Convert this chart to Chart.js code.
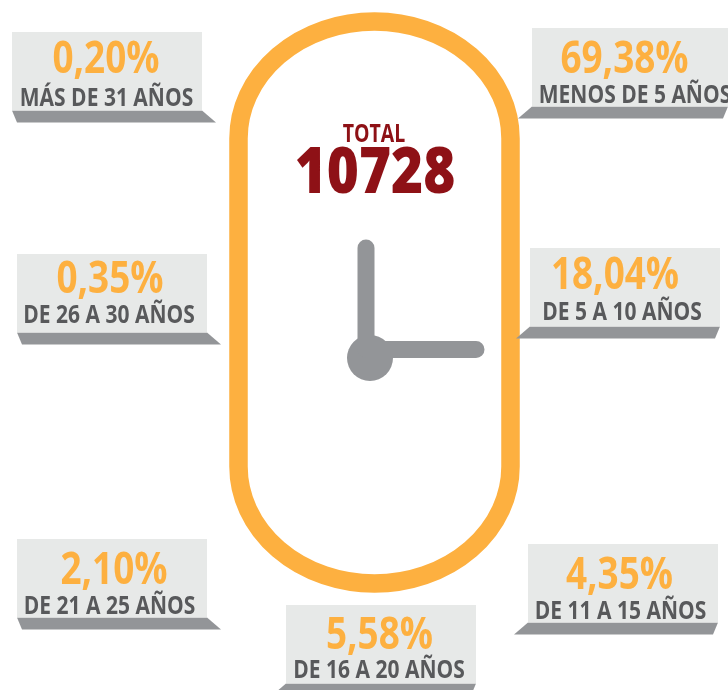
<!DOCTYPE html>
<html lang="es">
<head>
    <meta charset="UTF-8">
    <title>Total 10728</title>
    <style>
        * { margin: 0; padding: 0; box-sizing: border-box; }
        html, body { background: #ffffff; overflow: hidden; }
        #wrap { width: 728px; height: 690px; position: relative; }
    </style>
</head>
<body>
<div id="wrap"><canvas id="chart" width="728" height="690"></canvas></div>
<script src="https://cdn.jsdelivr.net/npm/chart.js"></script>
<script>
    // Data
    const categories = ['MENOS DE 5 AÑOS', 'DE 5 A 10 AÑOS', 'DE 11 A 15 AÑOS', 'DE 16 A 20 AÑOS', 'DE 21 A 25 AÑOS', 'DE 26 A 30 AÑOS', 'MÁS DE 31 AÑOS'];
    const shares = [69.38, 18.04, 4.35, 5.58, 2.10, 0.35, 0.20];
    const totalLabel = 'TOTAL';
    const totalValue = 10728;

    // Layout, in picture pixels
    const cardLeft = [532, 530, 528, 286, 17, 17, 12];
    const cardTop = [28, 248, 544, 605, 539, 254, 32];
    const cardWidth = [196, 190, 190, 190, 190, 190, 190];
    const valueCenter = [624.5, 615, 619.5, 379.5, 114, 110, 106];
    const valueBase = [73, 289, 589, 649, 584, 293, 73];
    const labelCenter = [635, 622, 620.5, 379, 109.5, 109, 106.5];
    const labelBase = [103, 320, 619, 678, 614, 323, 106];
    const shadowLeans = [-1, -1, -1, -1, 1, 1, 1];

    const ORANGE = '#FDB040';
    const GREY = '#939598';
    const CARD = '#E7E9E8';
    const TEXT = '#58595B';
    const RED = '#8E1116';

    function squeezedText(ctx, text, cx, base, font, squeeze, color) {
        ctx.save();
        ctx.font = font;
        ctx.fillStyle = color;
        ctx.textAlign = 'center';
        ctx.textBaseline = 'alphabetic';
        ctx.translate(cx, base);
        ctx.scale(squeeze, 1);
        ctx.fillText(text, 0, 0);
        ctx.restore();
    }

    const capsulePlugin = {
        id: 'capsule',
        beforeDatasetsDraw(chart) {
            const { ctx, scales: { x, y } } = chart;
            const left = x.getPixelForValue(238.5), right = x.getPixelForValue(510.5);
            const top = y.getPixelForValue(21.5), bottom = y.getPixelForValue(583.5);
            ctx.save();
            ctx.strokeStyle = ORANGE;
            ctx.lineWidth = 18.5;
            ctx.beginPath();
            // corners are flatter than a half circle
            ctx.roundRect(left, top, right - left, bottom - top, [{ x: (right - left) / 2, y: 117 }]);
            ctx.stroke();
            ctx.restore();
        }
    };

    const cardsPlugin = {
        id: 'cards',
        afterDatasetsDraw(chart) {
            const { ctx, scales: { x, y } } = chart;
            const points = chart.getDatasetMeta(0).data;
            categories.forEach((name, i) => {
                const px = points[i].x, py = points[i].y;
                const w = x.getPixelForValue(cardLeft[i] + cardWidth[i]) - px;
                const h = 78.5, drop = 12;
                ctx.fillStyle = GREY;
                ctx.beginPath();
                ctx.moveTo(px, py + h);
                ctx.lineTo(px + w, py + h);
                if (shadowLeans[i] > 0) {
                    ctx.lineTo(px + w + 14, py + h + drop);
                    ctx.lineTo(px + 5, py + h + drop);
                } else {
                    ctx.lineTo(px + w - 5, py + h + drop);
                    ctx.lineTo(px - 14, py + h + drop);
                }
                ctx.closePath();
                ctx.fill();
                ctx.fillStyle = CARD;
                ctx.fillRect(px, py, w, h);
                const share = shares[i].toFixed(2).replace('.', ',') + '%';
                squeezedText(ctx, share, x.getPixelForValue(valueCenter[i]), y.getPixelForValue(valueBase[i]), '700 45px "Open Sans"', 0.82, ORANGE);
                squeezedText(ctx, name, x.getPixelForValue(labelCenter[i]), y.getPixelForValue(labelBase[i]), '700 25px "Open Sans"', 0.84, TEXT);
            });
            squeezedText(ctx, totalLabel, x.getPixelForValue(374), y.getPixelForValue(142), '700 25px "Open Sans"', 0.78, RED);
            squeezedText(ctx, String(totalValue), x.getPixelForValue(375), y.getPixelForValue(193), '800 63px "Open Sans"', 0.87, RED);
        }
    };

    new Chart(document.getElementById('chart'), {
        type: 'scatter',
        data: {
            datasets: [
                {
                    label: 'Grupos',
                    data: categories.map((c, i) => ({ x: cardLeft[i], y: cardTop[i] })),
                    pointRadius: 0
                },
                {
                    label: 'Agujas',
                    data: [{ x: 366, y: 248 }, { x: 366, y: 349.5 }, { x: 476, y: 349.5 }],
                    showLine: true,
                    borderColor: GREY,
                    borderWidth: 17,
                    borderCapStyle: 'round',
                    borderJoinStyle: 'round',
                    pointRadius: 0
                },
                {
                    label: 'Eje',
                    data: [{ x: 370, y: 358 }],
                    backgroundColor: GREY,
                    borderWidth: 0,
                    pointRadius: 23
                }
            ]
        },
        options: {
            responsive: false,
            animation: false,
            events: [],
            layout: { padding: 0, autoPadding: false },
            plugins: { legend: { display: false }, tooltip: { enabled: false } },
            scales: {
                x: { type: 'linear', display: false, min: 0, max: 728 },
                y: { type: 'linear', display: false, min: 0, max: 690, reverse: true }
            }
        },
        plugins: [capsulePlugin, cardsPlugin]
    });
</script>
</body>
</html>
